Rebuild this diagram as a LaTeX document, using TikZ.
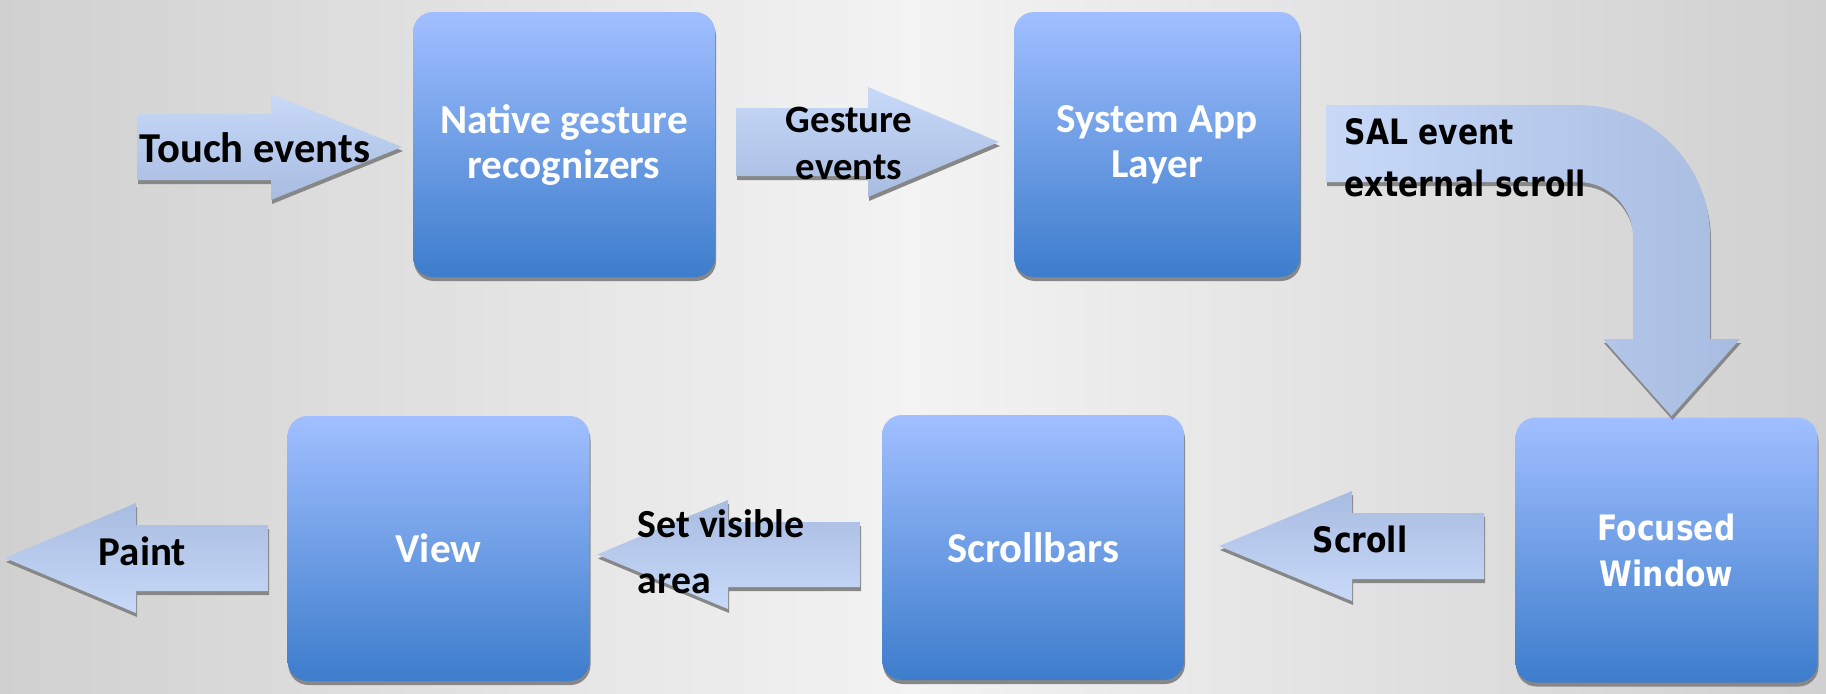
\documentclass[tikz,border=0pt]{standalone}
\usepackage{fontspec}
\usetikzlibrary{shadows}
\newfontfamily\calibri{Carlito}
\newfontfamily\tahoma[FakeStretch=0.85]{DejaVu Sans}
\definecolor{boxtop}{RGB}{161,191,255}
\definecolor{boxbot}{RGB}{61,125,204}
\definecolor{arrlight}{RGB}{200,217,248}
\definecolor{arrdark}{RGB}{168,188,225}
\definecolor{bgside}{RGB}{208,208,208}
\definecolor{bgmid}{RGB}{243,243,243}
\definecolor{shadowgray}{RGB}{135,135,135}

\tikzset{every picture/.style={line width=0.75pt}}
\tikzset{
  graydrop/.style={drop shadow={shadow xshift=0.5pt,shadow yshift=-2pt,fill=shadowgray,opacity=1}},
  stagebox/.style={rounded corners=10pt,minimum width=151pt,minimum height=132.5pt,
    top color=boxtop,bottom color=boxbot,text=white,align=center,inner sep=0pt,
    font=\calibri\bfseries\fontsize{20.6pt}{22.5pt}\selectfont,graydrop},
  rightarrow/.style={top color=arrlight,bottom color=arrdark,graydrop},
  leftarrow/.style={top color=arrdark,bottom color=arrlight,graydrop},
  bentarrow/.style={left color=arrlight,right color=arrdark,graydrop},
  armlabel/.style={text=black,inner sep=0pt,font=\calibri\bfseries\fontsize{20.5pt}{23.5pt}\selectfont},
  salabel/.style={text=black,inner sep=0pt,font=\tahoma\bfseries\fontsize{17.5pt}{26pt}\selectfont}
}

\begin{document}
\begin{tikzpicture}[x=0.5pt,y=0.5pt,yscale=-1,xscale=1]
\useasboundingbox (0,0) rectangle (1826,693);
%Background
\fill [left color=bgside,right color=bgside,middle color=bgmid] (0,0) rectangle (1826,693);

%Rounded Rect: stages
\node [stagebox] (native) at (564,144.5) {Native gesture\\recognizers};
\node [stagebox,minimum width=143pt] (sysapp) at (1157,144.5) {System App\\Layer};
\node [stagebox,font=\tahoma\bfseries\fontsize{17.5pt}{23pt}\selectfont] (focused) at (1666.5,550) {Focused\\Window};
\node [stagebox,font=\calibri\bfseries\fontsize{21.3pt}{22.5pt}\selectfont] (scrollbars) at (1033,547.5) {Scrollbars};
\node [stagebox] (view) at (438.5,548.5) {View};

%Right Arrow: touch
\draw [rightarrow,draw=none] (137,114) -- (271,114) -- (271,94) -- (402,147) -- (271,200) -- (271,180) -- (137,180) -- cycle ;
%Right Arrow: gesture
\draw [rightarrow,draw=none] (736,108) -- (868,108) -- (868,87) -- (999,142) -- (868,197) -- (868,176) -- (736,176) -- cycle ;
%Bent Arrow: SAL event
\draw [bentarrow,draw=none] (1326,105) -- (1578,105) arc[start angle=-90,end angle=0,radius=132] -- (1710,339) -- (1740,339) -- (1671.5,416) -- (1603,339) -- (1633,339) -- (1633,237) arc[start angle=0,end angle=-90,radius=55] -- (1326,182) -- cycle ;
%Left Arrow: scroll
\draw [leftarrow,draw=none] (1484,513) -- (1352,513) -- (1352,491) -- (1219,546) -- (1352,601) -- (1352,579) -- (1484,579) -- cycle ;
%Left Arrow: set visible area
\draw [leftarrow,draw=none] (860,522) -- (728,522) -- (728,500) -- (597,554.5) -- (728,609) -- (728,587) -- (860,587) -- cycle ;
%Left Arrow: paint
\draw [leftarrow,draw=none] (268,525) -- (136,525) -- (136,503) -- (5,558) -- (136,613) -- (136,591) -- (268,591) -- cycle ;

% Text Node
\node [armlabel,anchor=base,font=\calibri\bfseries\fontsize{21.3pt}{23.5pt}\selectfont] (touchlbl) at (255,162) {Touch events};
% Text Node
\node [armlabel,align=center,font=\calibri\bfseries\fontsize{19.4pt}{23.5pt}\selectfont] (gesturelbl) at (849,143) {Gesture\\events};
% Text Node
\node [salabel,align=left,anchor=west] (sallbl) at (1344,158) {SAL event\\external scroll};
% Text Node
\node [salabel,anchor=base west] (scrolllbl) at (1312,552) {Scroll};
% Text Node
\node [armlabel,align=left,anchor=west,font=\calibri\bfseries\fontsize{19.9pt}{28pt}\selectfont] (visiblelbl) at (637,552) {Set visible\\area};
% Text Node
\node [armlabel,anchor=base] (paintlbl) at (142.5,565) {Paint};

\end{tikzpicture}
\end{document}
